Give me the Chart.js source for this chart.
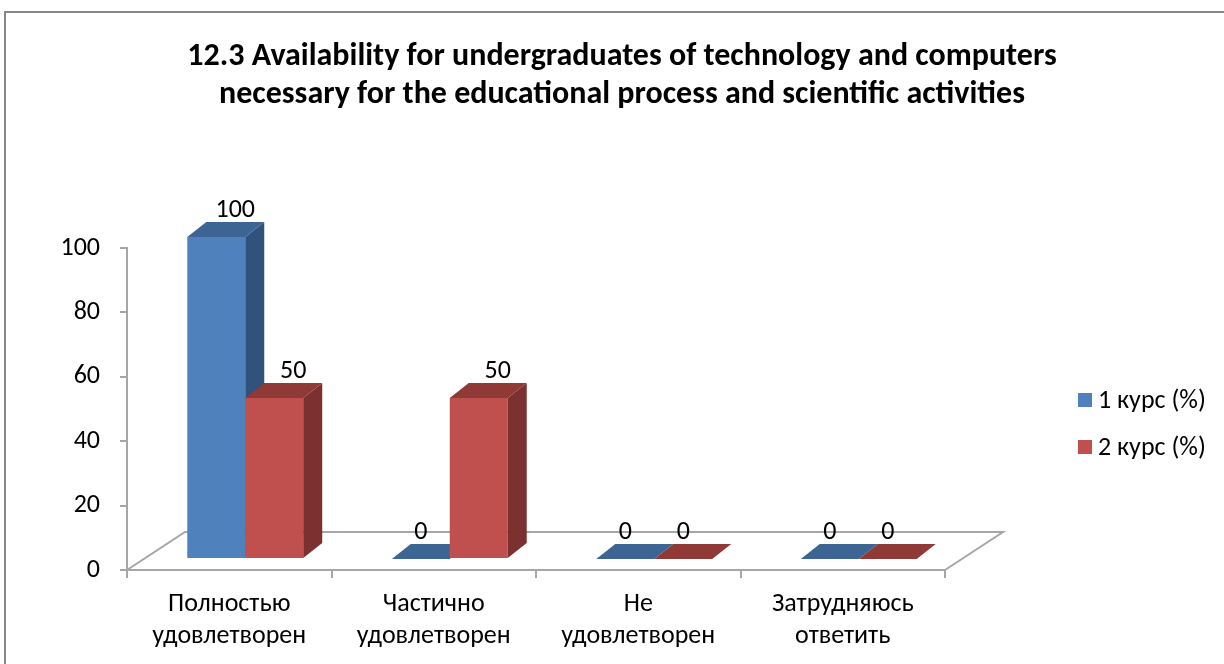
<!DOCTYPE html>
<html>
<head>
<meta charset="utf-8">
<script src="https://cdn.jsdelivr.net/npm/chart.js@4/dist/chart.umd.min.js"></script>
<style>
  body { margin: 0; width: 1224px; height: 664px; overflow: hidden; background: #fff; }
  #frame { position: absolute; left: 4px; top: 11px; width: 1300px; height: 700px; border: 2px solid #888; }
  #wrap { position: absolute; left: 0; top: 0; width: 1224px; height: 664px; }
</style>
</head>
<body>
<div id="frame"></div>
<div id="wrap"><canvas id="Chart"></canvas></div>
<script>
// データ
const categories = [
  ['Полностью', 'удовлетворен'],
  ['Частично', 'удовлетворен'],
  ['Не', 'удовлетворен'],
  ['Затрудняюсь', 'ответить']
];
const seriesNames = ['1 курс (%)', '2 курс (%)'];
const course1 = [100, 0, 0, 0];
const course2 = [50, 50, 0, 0];
const yTicks = [0, 20, 40, 60, 80, 100];
const titleLines = [
  '12.3 Availability for undergraduates of technology and computers',
  'necessary for the educational process and scientific activities'
];

const FONT = 'Carlito, "Open Sans", sans-serif';
// 色 (前面, 側面, 上面)
const colors = [
  { front: '#4f81bd', side: '#31527d', top: '#3d6594' },
  { front: '#c0504d', side: '#7b3130', top: '#8f3a37' }
];
// 3D の奥行き
const barDepth = { dx: 19, dy: -15 };
const barShift = { dx: 16, dy: -11 };
const floorDepth = { dx: 58, dy: -38 };

const bars3d = {
  id: 'bars3d',
  beforeDatasetsDraw(chart) {
    const ctx = chart.ctx;
    const a = chart.chartArea;
    ctx.save();
    ctx.strokeStyle = '#a6a6a6';
    ctx.lineWidth = 2;
    ctx.beginPath();
    ctx.moveTo(a.left, a.bottom);
    ctx.lineTo(a.left + floorDepth.dx, a.bottom + floorDepth.dy);
    ctx.lineTo(a.right + floorDepth.dx, a.bottom + floorDepth.dy);
    ctx.lineTo(a.right, a.bottom);
    ctx.stroke();
    ctx.restore();
  },
  afterDatasetsDraw(chart) {
    const ctx = chart.ctx;
    ctx.save();
    const n = chart.data.labels.length;
    for (let i = 0; i < n; i++) {
      chart.data.datasets.forEach((ds, d) => {
        const el = chart.getDatasetMeta(d).data[i];
        const p = el.getProps(['x', 'y', 'base', 'width'], true);
        const l = p.x - p.width / 2 + barShift.dx;
        const r = p.x + p.width / 2 + barShift.dx;
        const t = p.y + barShift.dy;
        const b = p.base + barShift.dy;
        const c = colors[d];
        // 前面
        ctx.fillStyle = c.front;
        ctx.fillRect(l, t, r - l, b - t);
        // 側面
        ctx.fillStyle = c.side;
        ctx.beginPath();
        ctx.moveTo(r, t); ctx.lineTo(r + barDepth.dx, t + barDepth.dy);
        ctx.lineTo(r + barDepth.dx, b + barDepth.dy); ctx.lineTo(r, b);
        ctx.closePath(); ctx.fill();
        // 上面
        ctx.fillStyle = c.top;
        ctx.beginPath();
        ctx.moveTo(l, t); ctx.lineTo(r, t);
        ctx.lineTo(r + barDepth.dx, t + barDepth.dy); ctx.lineTo(l + barDepth.dx, t + barDepth.dy);
        ctx.closePath(); ctx.fill();
      });
    }
    // ラベル
    ctx.fillStyle = '#000';
    ctx.font = '26px ' + FONT;
    ctx.textAlign = 'center';
    ctx.textBaseline = 'middle';
    chart.data.datasets.forEach((ds, d) => {
      chart.getDatasetMeta(d).data.forEach((el, i) => {
        const p = el.getProps(['x', 'y'], true);
        const v = ds.data[i];
        const x = p.x + barShift.dx + (v > 0 ? barDepth.dx : 0);
        ctx.fillText(String(v), x, p.y + barShift.dy - 27);
      });
    });
    ctx.restore();
  },
  afterDraw(chart) {
    // 凡例
    const ctx = chart.ctx;
    ctx.save();
    ctx.font = '26px ' + FONT;
    ctx.textBaseline = 'middle';
    ctx.textAlign = 'left';
    seriesNames.forEach((name, d) => {
      const y = 400 + d * 47;
      ctx.fillStyle = colors[d].front;
      ctx.fillRect(1078, y - 7, 14, 14);
      ctx.fillStyle = '#000';
      ctx.fillText(name, 1098, y + 1);
    });
    ctx.restore();
  }
};

const lineCtx = document.getElementById('Chart');
const config = {
  type: 'bar',
  data: {
    labels: categories,
    datasets: [
      { label: seriesNames[0], data: course1, backgroundColor: 'rgba(0,0,0,0)' },
      { label: seriesNames[1], data: course2, backgroundColor: 'rgba(0,0,0,0)' }
    ]
  },
  options: {
    responsive: false,
    animation: false,
    layout: { padding: { left: 20, right: 0, top: 0, bottom: 0 } },
    datasets: { bar: { barPercentage: 1, categoryPercentage: 0.567 } },
    plugins: {
      legend: { display: false },
      tooltip: { enabled: false },
      title: {
        display: true,
        text: titleLines,
        color: '#000',
        font: { family: FONT, size: 32, weight: 'bold', lineHeight: 1.1875 },
        padding: { top: 38, bottom: 134 }
      }
    },
    scales: {
      x: {
        grid: { display: true, drawOnChartArea: false, offset: true, tickLength: 8, color: '#a6a6a6', lineWidth: 2 },
        border: { color: '#a6a6a6', width: 2 },
        ticks: { color: '#000', font: { family: FONT, size: 26, lineHeight: 1.23 }, padding: 11, maxRotation: 0, autoSkip: false },
        afterFit(s) { s.height = 94; }
      },
      y: {
        min: 0,
        max: 100,
        afterBuildTicks(s) { s.ticks = yTicks.map(v => ({ value: v })); },
        grid: { display: true, drawOnChartArea: false, tickLength: 7, color: '#a6a6a6', lineWidth: 2 },
        border: { color: '#a6a6a6', width: 2 },
        ticks: { color: '#000', font: { family: FONT, size: 26 }, padding: 20 },
        afterFit(s) { s.width = 107; }
      },
      yRight: {
        position: 'right',
        display: true,
        grid: { display: false },
        border: { display: false },
        ticks: { display: false },
        afterFit(s) { s.width = 279; }
      }
    }
  },
  plugins: [bars3d]
};
lineCtx.width = 1224;
lineCtx.height = 664;
const chart = new Chart(lineCtx, config);
</script>
</body>
</html>
